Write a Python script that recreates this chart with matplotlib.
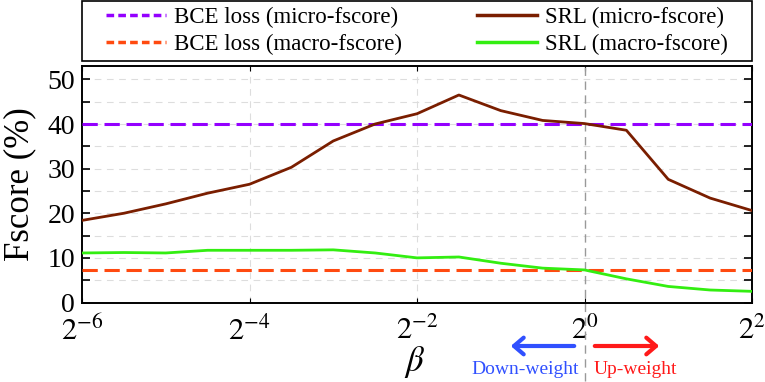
import numpy as np
import matplotlib
matplotlib.use("Agg")
import matplotlib.pyplot as plt
from matplotlib.ticker import FixedLocator, NullLocator, MultipleLocator
from matplotlib.lines import Line2D

plt.rcParams['font.family'] = ['Liberation Serif', 'DejaVu Serif']
plt.rcParams['mathtext.fontset'] = 'stix'

# data
exponents = [-6, -5.5, -5, -4.5, -4, -3.5, -3, -2.5, -2, -1.5, -1, -0.5, 0, 0.5, 1, 1.5, 2]
srl_micro = [18.4, 20.0, 22.1, 24.5, 26.5, 30.3, 36.2, 40.0, 42.3, 46.5, 43.0, 40.8, 40.1, 38.6, 27.6, 23.4, 20.6]
srl_macro = [11.1, 11.2, 11.1, 11.7, 11.7, 11.7, 11.8, 11.1, 10.0, 10.2, 8.8, 7.7, 7.3, 5.3, 3.6, 2.8, 2.5]
bce_micro = 40.1
bce_macro = 7.3
xtick_exps = [-6, -4, -2, 0, 2]
xtick_labels = ['$2^{-6}$', '$2^{-4}$', '$2^{-2}$', '$2^{0}$', '$2^{2}$']

beta = [2.0 ** e for e in exponents]

fig = plt.figure(figsize=(7.65, 3.82), dpi=100)
ax = fig.add_axes([82/765, 1-302.5/382, (752-82)/765, (302.5-66)/382])

c_pur = '#9400FF'
c_org = '#FF4A10'
c_brn = '#7A1E00'
c_grn = '#33EE11'

ax.axhline(bce_micro, color=c_pur, lw=2.2, ls=(0, (5, 2.2)), zorder=3)
ax.axhline(bce_macro, color=c_org, lw=2.2, ls=(0, (5, 2.2)), zorder=3)
ax.plot(beta, srl_micro, color=c_brn, lw=2.0, zorder=4)
ax.plot(beta, srl_macro, color=c_grn, lw=2.0, zorder=4)

ax.set_xscale('log', base=2)
ax.set_xlim(2.0 ** -6, 2.0 ** 2)
ax.set_ylim(0, 53)
ax.xaxis.set_major_locator(FixedLocator([2.0 ** e for e in xtick_exps]))
ax.xaxis.set_minor_locator(NullLocator())
ax.set_xticklabels(xtick_labels)
ax.yaxis.set_major_locator(MultipleLocator(10))
ax.yaxis.set_minor_locator(MultipleLocator(5))

ax.tick_params(axis='y', which='both', direction='in', length=6, width=1.2,
               left=True, right=True, labelsize=20, pad=5)
ax.tick_params(axis='x', which='both', direction='in', length=3.5, width=0.8,
               top=True, bottom=True, labelsize=22, pad=10)
for s in ax.spines.values():
    s.set_linewidth(1.4)

# grid
for yv in np.arange(5, 53, 5):
    ax.axhline(yv, color='#dddddd', lw=0.8, ls=(0, (6, 5)), zorder=1)
for e in [-4, -2]:
    ax.axvline(2.0 ** e, color='#dddddd', lw=0.8, ls=(0, (6, 5)), zorder=1)
ax.axvline(1.0, ymin=-0.33, ymax=1, color='#999999', lw=1.0, ls=(0, (6, 4)),
           zorder=2, clip_on=False)

ax.set_ylabel('Fscore (%)', fontsize=25, labelpad=8)
fig.text(415/765, 1-362/382, r'$\beta$', fontsize=25, ha='center', va='center')

# arrows and texts
fig.patches.append(matplotlib.patches.FancyArrowPatch(
    (577/765, 1-346/382), (508/765, 1-346/382), transform=fig.transFigure,
    arrowstyle='->,head_length=7,head_width=6', color='#3050FF', lw=3))
fig.patches.append(matplotlib.patches.FancyArrowPatch(
    (592/765, 1-346/382), (662/765, 1-346/382), transform=fig.transFigure,
    arrowstyle='->,head_length=7,head_width=6', color='#FF1A1A', lw=3))
fig.text(525/765, 1-370/382, 'Down-weight', color='#3050FF', fontsize=14,
         ha='center', va='center')
fig.text(635/765, 1-370/382, 'Up-weight', color='#FF1A1A', fontsize=14,
         ha='center', va='center')

handles = [Line2D([], [], color=c_pur, lw=2.5, ls=(0, (2.2, 1.2))),
           Line2D([], [], color=c_org, lw=2.5, ls=(0, (2.2, 1.2))),
           Line2D([], [], color=c_brn, lw=2.5),
           Line2D([], [], color=c_grn, lw=2.5)]
labels = ['BCE loss (micro-fscore)', 'BCE loss (macro-fscore)',
          'SRL (micro-fscore)', 'SRL (macro-fscore)']
leg = fig.legend(handles, labels, ncol=2, loc='center',
                 bbox_to_anchor=(417/765, 1-31/382),
                 fontsize=16.5, frameon=False,
                 handlelength=2.6, handletextpad=0.35, columnspacing=3.3,
                 labelspacing=0.25, borderpad=0.2)
fig.patches.append(matplotlib.patches.Rectangle(
    (82/765, 1-61/382), (752-82)/765, 60/382, transform=fig.transFigure,
    fill=False, edgecolor='black', lw=1.2))

fig.savefig('out.png', dpi=100)
